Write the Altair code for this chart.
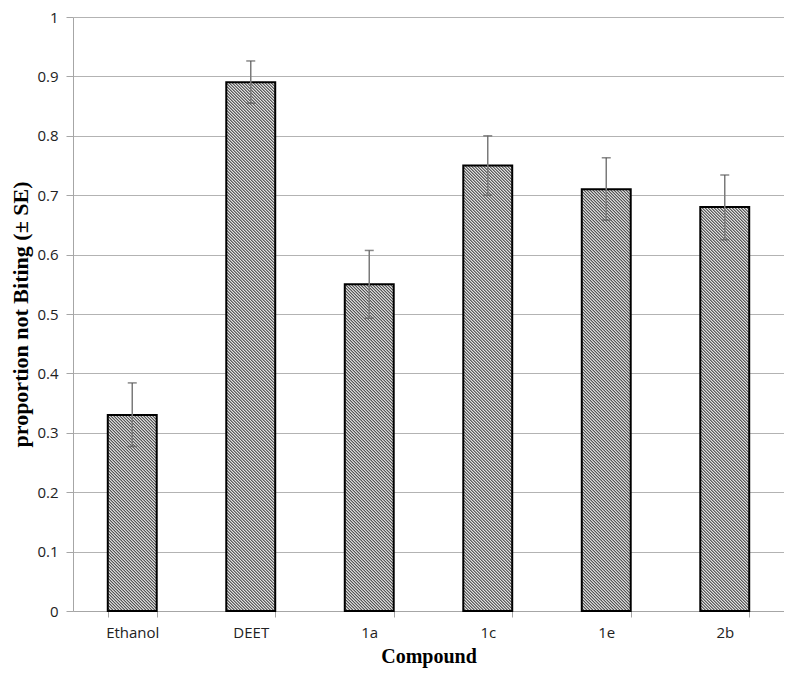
import altair as alt
import pandas as pd

# ---- data ----
compounds = ["Ethanol", "DEET", "1a", "1c", "1e", "2b"]
proportion = [0.33, 0.89, 0.55, 0.75, 0.71, 0.68]
se_low = [0.277, 0.855, 0.493, 0.700, 0.658, 0.625]
se_high = [0.384, 0.926, 0.607, 0.800, 0.763, 0.734]
y_ticks = [0, 0.1, 0.2, 0.3, 0.4, 0.5, 0.6, 0.7, 0.8, 0.9, 1]

df = pd.DataFrame({"Compound": compounds, "value": proportion, "lo": se_low, "hi": se_high})
caps = pd.DataFrame({
    "Compound": compounds + compounds,
    "cap": se_low + se_high,
})

# ---- layout ----
W, H = 711, 594
PAD_INNER = 0.587
BAR_W = W / len(compounds) * (1 - PAD_INNER)
PERIOD = 3.0      # horizontal spacing of hatch lines (px)
DARK = "#383838"


def hatch(v):
    """Diagonal '\\' hatch as a soft (triangle-wave) linear gradient for a bar of value v."""
    h = v * H
    w = BAR_W
    n = int((w + h) / PERIOD) + 1
    span = n * PERIOD
    s = span / (w * w + h * h)
    stops = []
    for k in range(n):
        stops += [
            {"offset": k / n, "color": DARK},
            {"offset": (k + 0.5) / n, "color": "#ffffff"},
        ]
    stops.append({"offset": 1, "color": DARK})
    return {"gradient": "linear", "x1": 0, "y1": 1, "x2": s * w, "y2": 1 - s * h, "stops": stops}


x_scale = alt.Scale(domain=compounds, paddingInner=PAD_INNER, paddingOuter=PAD_INNER / 2)
y_scale = alt.Scale(domain=[0, 1], nice=False)

x_axis = alt.Axis(
    title="Compound",
    tickBand="extent",
    labelAngle=0,
    labelFont="Open Sans",
    labelFontSize=15,
    labelColor="#222222",
    labelPadding=8,
    tickColor="#a6a6a6",
    tickSize=6,
    domainColor="#a6a6a6",
    grid=False,
    titleFont="Liberation Serif",
    titleFontSize=20,
    titleFontWeight="bold",
    titleColor="#000000",
    titlePadding=6,
)
y_axis = alt.Axis(
    title="proportion not Biting (± SE)",
    values=y_ticks,
    format="~g",
    labelFont="Open Sans",
    labelFontSize=15,
    labelColor="#222222",
    labelPadding=8,
    tickColor="#a6a6a6",
    tickSize=7,
    domainColor="#a6a6a6",
    grid=True,
    gridColor="#b3b3b3",
    gridWidth=1,
    titleFont="Liberation Serif",
    titleFontSize=22,
    titleFontWeight="bold",
    titleColor="#000000",
    titlePadding=4,
)

X = alt.X("Compound:N", scale=x_scale, axis=x_axis, sort=compounds)

bars = []
for c, v in zip(compounds, proportion):
    bars.append(
        alt.Chart(df)
        .transform_filter(alt.datum.Compound == c)
        .mark_bar(fill=hatch(v), stroke="#000000", strokeWidth=2)
        .encode(x=X, y=alt.Y("value:Q", scale=y_scale, axis=y_axis))
    )

rules = alt.Chart(df).mark_rule(color="#7a7a7a", strokeWidth=1.5).encode(
    x=X,
    y=alt.Y("lo:Q", scale=y_scale, axis=y_axis),
    y2="hi:Q",
)
cap_marks = alt.Chart(caps).mark_tick(
    orient="horizontal", color="#555555", size=9, thickness=1.5
).encode(
    x=X,
    y=alt.Y("cap:Q", scale=y_scale, axis=y_axis),
)

chart = (
    alt.layer(*bars, rules, cap_marks)
    .properties(
        width=W,
        height=H,
        autosize=alt.AutoSizeParams(type="none"),
        padding={"left": 65, "top": 9, "right": 0, "bottom": 58},
        background="#ffffff",
    )
    .configure_view(stroke=None)
)

chart.save("out.html", embed_options={"renderer": "svg", "actions": False})
